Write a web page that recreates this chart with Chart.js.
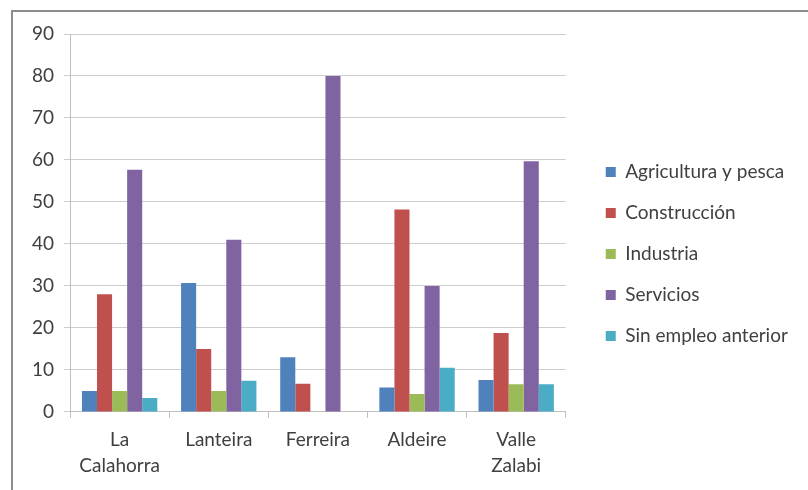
<!DOCTYPE html>
<html>
<head>
<meta charset="utf-8">
<script src="https://cdn.jsdelivr.net/npm/chart.js@4"></script>
<style>
  html, body { margin: 0; padding: 0; background: #fff; }
  #wrap { position: relative; width: 808px; height: 490px; overflow: hidden; }
  #frame { position: absolute; left: 11px; top: 10px; width: 900px; height: 600px; border-top: 2px solid #8c8c8c; border-left: 2px solid #8c8c8c; box-sizing: border-box; }
  canvas { position: absolute; left: 0; top: 0; }
</style>
</head>
<body>
<div id="wrap">
  <div id="frame"></div>
  <canvas id="c" width="808" height="490"></canvas>
</div>
<script>
const categories = [["La", "Calahorra"], "Lanteira", "Ferreira", "Aldeire", ["Valle", "Zalabi"]];
const seriesNames = ["Agricultura y pesca", "Construcción", "Industria", "Servicios", "Sin empleo anterior"];
const agricultura = [5, 30.7, 13, 5.8, 7.6];
const construccion = [28, 15, 6.7, 48.2, 18.8];
const industria = [5, 5, 0, 4.3, 6.6];
const servicios = [57.7, 41, 80, 30, 59.7];
const sinEmpleo = [3.3, 7.4, 0, 10.5, 6.6];
const yTicks = [0, 10, 20, 30, 40, 50, 60, 70, 80, 90];
const colors = ["#4F81BD", "#C0504D", "#9BBB59", "#8064A2", "#4BACC6"];

const values = [agricultura, construccion, industria, servicios, sinEmpleo];
const FONT = "Lato, 'Open Sans', sans-serif";
const LEGEND_GAP = 40;

const legendShift = {
  id: 'legendShift',
  afterLayout(chart) {
    const lg = chart.legend;
    if (!lg) return;
    const pad = lg.options.labels.padding;
    const dx = (chart.chartArea.right + LEGEND_GAP) - (lg.left + pad);
    lg.left += dx;
    lg.right = chart.width;
    lg.width = lg.right - lg.left;
    lg.top -= 7; lg.bottom -= 7;
  }
};

new Chart(document.getElementById('c'), {
  type: 'bar',
  data: {
    labels: categories,
    datasets: values.map((v, i) => ({
      label: seriesNames[i],
      data: v,
      backgroundColor: colors[i],
      borderWidth: 0,
      categoryPercentage: 0.76,
      barPercentage: 1.0
    }))
  },
  plugins: [legendShift],
  options: {
    responsive: false,
    animation: false,
    layout: { padding: { left: 22, top: 34, right: 61, bottom: 2 } },
    plugins: {
      tooltip: { enabled: false },
      legend: {
        position: 'right',
        align: 'center',
        labels: {
          boxWidth: 10,
          boxHeight: 10,
          padding: 22,
          color: '#404040',
          font: { family: FONT, size: 19 }
        }
      }
    },
    scales: {
      x: {
        grid: { drawOnChartArea: false, drawTicks: true, tickLength: 6, color: '#bfbfbf', offset: true },
        border: { color: '#bfbfbf', width: 1 },
        ticks: { color: '#404040', font: { family: FONT, size: 19, lineHeight: 1.37 }, maxRotation: 0, padding: 9 }
      },
      y: {
        min: 0,
        max: 90,
        afterBuildTicks: (axis) => { axis.ticks = yTicks.map(v => ({ value: v })); },
        grid: { color: '#cdcdcd', lineWidth: 1, drawTicks: true, tickLength: 6 },
        border: { color: '#bfbfbf', width: 1 },
        ticks: { color: '#404040', font: { family: FONT, size: 19 }, padding: 10 }
      }
    }
  }
});
</script>
</body>
</html>
